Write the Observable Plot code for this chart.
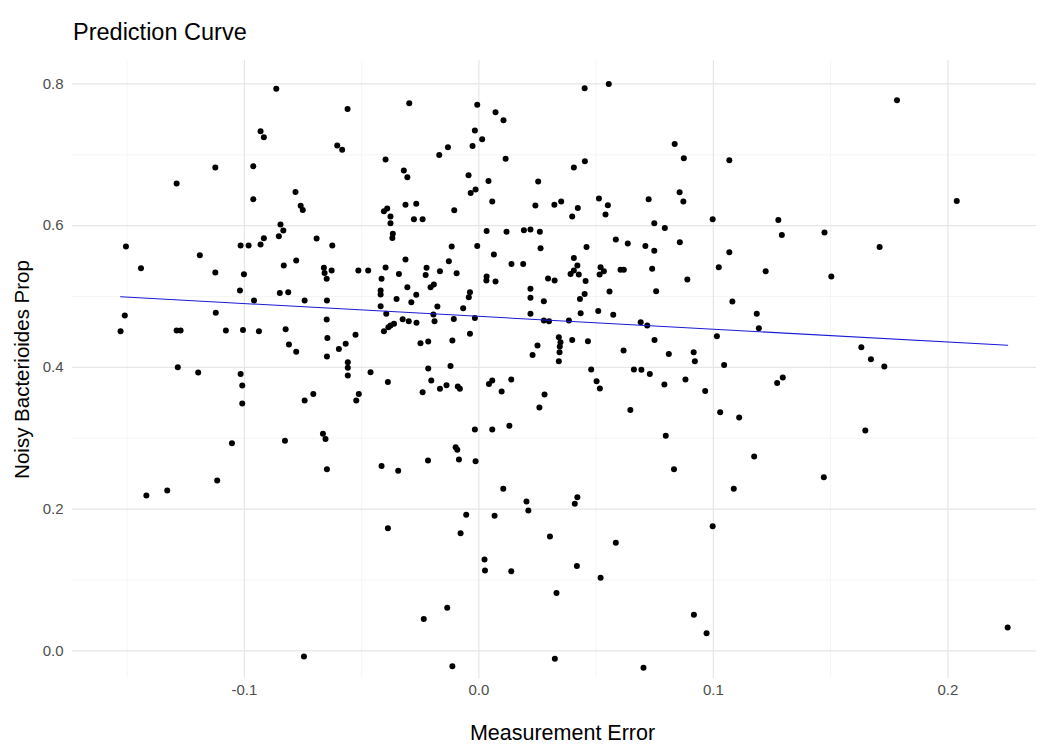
<!DOCTYPE html>
<html><head><meta charset="utf-8">
<script src="https://cdn.jsdelivr.net/npm/d3@7"></script>
<script src="https://cdn.jsdelivr.net/npm/@observablehq/plot@0.6"></script>
<style>
body{margin:0;background:#fff;font-family:"Liberation Sans",Arial,sans-serif;}
#title{height:50px;box-sizing:border-box;padding-left:73px;padding-top:19px;font-size:23.5px;color:#000;line-height:26px}
</style></head><body>
<div id="title">Prediction Curve</div>
<div id="chart"></div>
<script>
const xTitle = "Measurement Error";
const yTitle = "Noisy Bacterioides Prop";
const xTicks = [-0.1, 0.0, 0.1, 0.2];
const xMinorTicks = [-0.15, -0.05, 0.05, 0.15];
const yTicks = [0.0, 0.2, 0.4, 0.6, 0.8];
const yMinorTicks = [0.1, 0.3, 0.5, 0.7];

// [measurement error, noisy Bacterioides proportion]
const pointsLow = [
[-0.1528,0.4509],[-0.1510,0.4731],[-0.1505,0.5704],[-0.1441,0.5398],[-0.1418,0.2191],[-0.1329,0.2262],
[-0.1289,0.4519],[-0.1272,0.4519],[-0.1284,0.4001],[-0.1289,0.6593],[-0.1197,0.3927],[-0.1190,0.5582],
[-0.1124,0.6819],[-0.1124,0.5338],[-0.1122,0.4769],[-0.1116,0.2403],[-0.1079,0.4519],[-0.1053,0.2929],
[-0.1019,0.5084],[-0.1016,0.5719],[-0.0982,0.5719],[-0.1002,0.5314],[-0.1006,0.4529],[-0.1016,0.3908],
[-0.1009,0.3743],[-0.1009,0.3489],[-0.0962,0.6837],[-0.0962,0.6372],[-0.0959,0.4942],[-0.0938,0.4509],
[-0.0931,0.7331],[-0.0917,0.7246],[-0.0917,0.5822],[-0.0931,0.5733],[-0.0864,0.7930],[-0.0849,0.5051],
[-0.0813,0.5060],[-0.0846,0.6015],[-0.0834,0.5930],[-0.0853,0.5850],[-0.0832,0.5436],[-0.0827,0.2963],
[-0.0824,0.4538],[-0.0810,0.4322],[-0.0782,0.6476],[-0.0779,0.4219],[-0.0779,0.5507],[-0.0760,0.6279],
[-0.0751,0.6222],[-0.0746,-0.0080],[-0.0743,0.4942],[-0.0743,0.3532],[-0.0706,0.3626],[-0.0692,0.5817],
[-0.0665,0.3062],[-0.0654,0.2991],[-0.0661,0.5404],[-0.0658,0.5333],[-0.0628,0.5366],[-0.0649,0.5249],
[-0.0648,0.4942],[-0.0649,0.4674],[-0.0646,0.4416],[-0.0648,0.4152],[-0.0648,0.2562],[-0.0625,0.5719],
[-0.0604,0.7129],[-0.0583,0.7069],[-0.0597,0.4261],[-0.0568,0.4332],[-0.0560,0.7647],[-0.0559,0.4072],
[-0.0559,0.3993],[-0.0559,0.3884],[-0.0526,0.4459],[-0.0512,0.3626],[-0.0523,0.3532],[-0.0514,0.5366]
];
const pointsMid = [
[-0.0472,0.5366],[-0.0462,0.3931],[-0.0419,0.5084],[-0.0419,0.5027],[-0.0419,0.4862],[-0.0415,0.5249],
[-0.0415,0.2610],[-0.0405,0.6202],[-0.0391,0.6241],[-0.0405,0.4509],[-0.0398,0.6932],[-0.0398,0.5408],
[-0.0395,0.4755],[-0.0388,0.3795],[-0.0388,0.1730],[-0.0377,0.6128],[-0.0377,0.6033],[-0.0367,0.5884],
[-0.0369,0.5827],[-0.0377,0.4590],[-0.0362,0.4614],[-0.0386,0.4566],[-0.0351,0.4966],[-0.0344,0.2540],
[-0.0341,0.5319],[-0.0325,0.4679],[-0.0320,0.6777],[-0.0305,0.6682],[-0.0313,0.6293],[-0.0267,0.6307],
[-0.0313,0.5521],[-0.0305,0.5130],[-0.0299,0.4650],[-0.0297,0.7726],[-0.0288,0.4919],[-0.0277,0.6090],
[-0.0240,0.6090],[-0.0267,0.5023],[-0.0266,0.4628],[-0.0249,0.4340],[-0.0216,0.4364],[-0.0240,0.3649],
[-0.0235,0.0451],[-0.0223,0.5404],[-0.0227,0.5305],[-0.0217,0.2685],[-0.0216,0.3983],[-0.0206,0.5130],
[-0.0192,0.5168],[-0.0203,0.3814],[-0.0194,0.4745],[-0.0189,0.4650],[-0.0177,0.4858],[-0.0169,0.6998],
[-0.0166,0.5356],[-0.0166,0.3697],[-0.0138,0.3747],[-0.0135,0.0607],[-0.0132,0.7105],[-0.0128,0.5497],
[-0.0121,0.4021],[-0.0116,0.5704],[-0.0113,0.4378],[-0.0113,-0.0217],[-0.0107,0.4684],[-0.0105,0.6217],
[-0.0099,0.2873],[-0.0092,0.2836],[-0.0095,0.5328],[-0.0090,0.3729],[-0.0081,0.3697],[-0.0085,0.2699],
[-0.0078,0.1659],[-0.0067,0.4834],[-0.0054,0.1919],[-0.0044,0.6710],[-0.0043,0.4989],[-0.0038,0.5060],
[-0.0038,0.4473],[-0.0035,0.6462],[-0.0014,0.6509],[-0.0027,0.7125],[-0.0017,0.7341],[-0.0017,0.4698],
[-0.0017,0.3122],[-0.0014,0.2675],[-0.0007,0.7704],[-0.0007,0.5714],[0.0014,0.7218],[0.0024,0.1288],
[0.0026,0.1133],[0.0032,0.5225],[0.0033,0.5926],[0.0033,0.5281],[0.0041,0.6631],[0.0043,0.3767],
[0.0057,0.3814],[0.0057,0.6339],[0.0057,0.3122],[0.0064,0.5592],[0.0067,0.1905],[0.0071,0.7599],
[0.0071,0.5212],[0.0097,0.3659],[0.0104,0.2286],[0.0105,0.7486],[0.0114,0.6942],[0.0118,0.5912],
[0.0130,0.3175],[0.0138,0.3828],[0.0138,0.1123],[0.0139,0.5460],[0.0189,0.5460],[0.0192,0.5934],
[0.0220,0.5944],[0.0203,0.2107],[0.0211,0.1980],[0.0220,0.5108],[0.0220,0.4981],[0.0220,0.4755],
[0.0229,0.4176],[0.0241,0.6283],[0.0250,0.4308],[0.0253,0.6622],[0.0258,0.3433],[0.0260,0.5912],
[0.0263,0.5680],[0.0277,0.4933],[0.0277,0.4660],[0.0299,0.4650],[0.0280,0.3616],[0.0295,0.5253]
];
const pointsHigh = [
[0.0323,0.5225],[0.0303,0.1613],[0.0322,0.6293],[0.0351,0.6339],[0.0324,-0.0113],[0.0331,0.0818],
[0.0341,0.4425],[0.0348,0.4354],[0.0345,0.4293],[0.0344,0.4213],[0.0341,0.4086],[0.0384,0.4660],
[0.0391,0.5319],[0.0405,0.5366],[0.0426,0.5309],[0.0398,0.6128],[0.0398,0.4388],[0.0405,0.6819],
[0.0405,0.5545],[0.0420,0.5436],[0.0409,0.2074],[0.0420,0.2167],[0.0418,0.1199],[0.0422,0.6250],
[0.0431,0.4966],[0.0434,0.4763],[0.0451,0.7938],[0.0452,0.6908],[0.0451,0.5037],[0.0455,0.5218],
[0.0459,0.5700],[0.0465,0.4368],[0.0479,0.3969],[0.0502,0.3804],[0.0509,0.4797],[0.0512,0.6382],
[0.0516,0.3701],[0.0519,0.5412],[0.0533,0.5356],[0.0515,0.5309],[0.0519,0.1030],[0.0540,0.6156],
[0.0550,0.6287],[0.0554,0.8000],[0.0557,0.5069],[0.0573,0.4741],[0.0584,0.5803],[0.0584,0.1524],
[0.0604,0.5376],[0.0618,0.5376],[0.0617,0.4237],[0.0635,0.5747],[0.0646,0.3400],[0.0661,0.3969],
[0.0690,0.4636],[0.0693,0.3965],[0.0702,-0.0240],[0.0710,0.5714],[0.0718,0.4590],[0.0724,0.6372],
[0.0729,0.3908],[0.0739,0.5390],[0.0748,0.6033],[0.0748,0.5644],[0.0749,0.4388],[0.0756,0.5074],
[0.0791,0.3757],[0.0793,0.5968],[0.0797,0.3034],[0.0810,0.4190],[0.0832,0.2562],[0.0835,0.7153],
[0.0856,0.6471],[0.0857,0.5765],[0.0872,0.6339],[0.0874,0.6950],[0.0881,0.3828],[0.0889,0.5239],
[0.0916,0.4213],[0.0921,0.4086],[0.0917,0.0508],[0.0965,0.3668],[0.0971,0.0248],[0.0997,0.6090],
[0.0997,0.1758],[0.1015,0.4439],[0.1023,0.5412],[0.1029,0.3366],[0.1046,0.4035],[0.1068,0.6922],
[0.1068,0.5624],[0.1081,0.4928],[0.1087,0.2286],[0.1110,0.3292],[0.1174,0.2741],[0.1185,0.4755],
[0.1194,0.4552],[0.1223,0.5356],[0.1272,0.3781],[0.1296,0.3856],[0.1277,0.6081],[0.1292,0.5869],
[0.1471,0.2449],[0.1474,0.5902],[0.1503,0.5281],[0.1631,0.4284],[0.1648,0.3108],[0.1672,0.4114],
[0.1709,0.5700],[0.1729,0.4011],[0.1783,0.7769],[0.2038,0.6349],[0.2255,0.0329]
];

const data = [...pointsLow, ...pointsMid, ...pointsHigh].map(([x, y]) => ({x, y}));
const fmt = d => d.toFixed(1);

const chart = Plot.plot({
  width: 1042,
  height: 701,
  marginLeft: 72,
  marginRight: 6,
  marginTop: 10,
  marginBottom: 73,
  style: {fontFamily: "'Liberation Sans', Arial, sans-serif", background: "#fff", overflow: "visible"},
  x: {domain: [-0.1733, 0.2378]},
  y: {domain: [-0.039, 0.833]},
  marks: [
    Plot.gridX(xMinorTicks, {stroke: "#f0f0f0", strokeOpacity: 1, strokeWidth: 0.7}),
    Plot.gridY(yMinorTicks, {stroke: "#f0f0f0", strokeOpacity: 1, strokeWidth: 0.7}),
    Plot.gridX(xTicks, {stroke: "#e6e6e6", strokeOpacity: 1, strokeWidth: 1.2}),
    Plot.gridY(yTicks, {stroke: "#e6e6e6", strokeOpacity: 1, strokeWidth: 1.2}),
    Plot.axisX(xTicks, {tickSize: 0, tickPadding: 6, tickFormat: fmt, fontSize: 15, fill: "#4d4d4d", label: null}),
    Plot.axisY(yTicks, {tickSize: 0, tickPadding: 9, tickFormat: fmt, fontSize: 15, fill: "#4d4d4d", label: null}),
    Plot.dot(data, {x: "x", y: "y", r: 3, fill: "#000", stroke: null}),
    Plot.linearRegressionY(data, {x: "x", y: "y", stroke: "#1a1ad6", strokeWidth: 1.1, ci: 0}),
    Plot.text([xTitle], {frameAnchor: "bottom", textAnchor: "middle", dx: 8, dy: 61, fontSize: 21.5, fill: "#000"}),
    Plot.text([yTitle], {frameAnchor: "left", textAnchor: "middle", dx: -50, rotate: -90, fontSize: 20.5, fill: "#000"})
  ]
});
document.getElementById("chart").appendChild(chart);
</script>
</body></html>
